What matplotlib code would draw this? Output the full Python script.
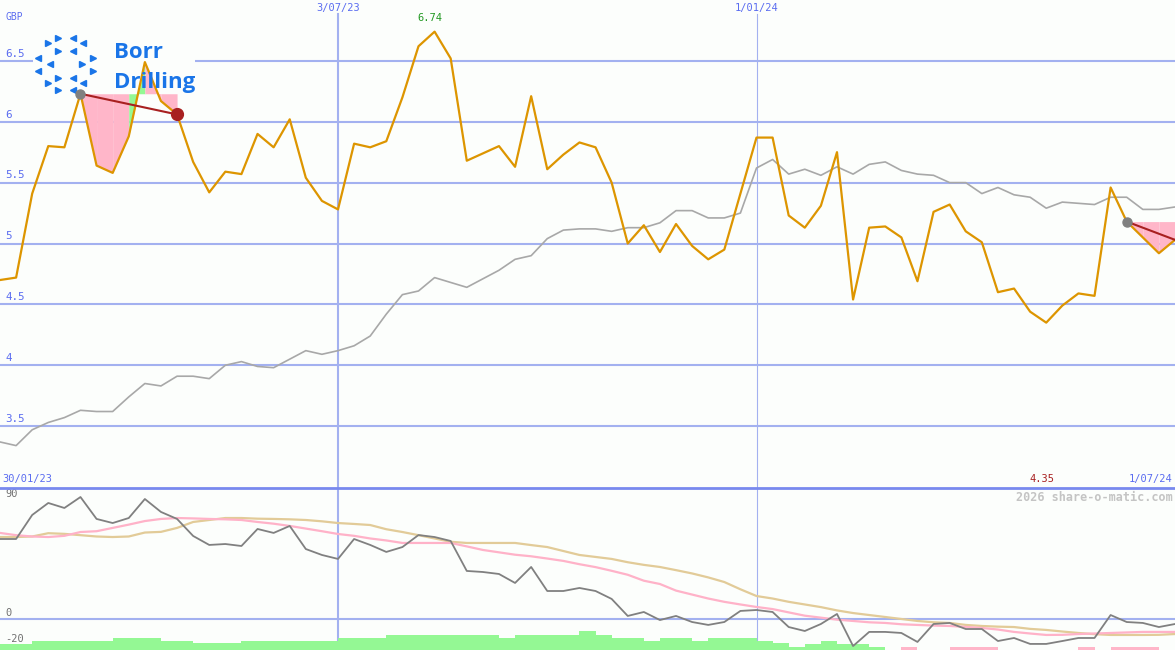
import matplotlib
matplotlib.use('Agg')
import matplotlib.pyplot as plt
from matplotlib.patches import Rectangle

# ---------------- data ----------------
price = [4.70, 4.72, 5.41, 5.80, 5.79, 6.23, 5.64, 5.58, 5.88, 6.49,
         6.17, 6.06, 5.67, 5.42, 5.59, 5.57, 5.90, 5.79, 6.02, 5.54,
         5.35, 5.28, 5.82, 5.79, 5.84, 6.20, 6.62, 6.74, 6.52, 5.68,
         5.74, 5.80, 5.63, 6.21, 5.61, 5.73, 5.83, 5.79, 5.50, 5.00,
         5.15, 4.93, 5.16, 4.98, 4.87, 4.95, 5.41, 5.87, 5.87, 5.23,
         5.13, 5.31, 5.75, 4.54, 5.13, 5.14, 5.05, 4.69, 5.26, 5.32,
         5.10, 5.01, 4.60, 4.63, 4.44, 4.35, 4.49, 4.59, 4.57, 5.46,
         5.18, 5.05, 4.92, 5.03]
avg = [3.37, 3.34, 3.47, 3.53, 3.57, 3.63, 3.62, 3.62, 3.74, 3.85,
       3.83, 3.91, 3.91, 3.89, 4.00, 4.03, 3.99, 3.98, 4.05, 4.12,
       4.09, 4.12, 4.16, 4.24, 4.42, 4.58, 4.61, 4.72, 4.68, 4.64,
       4.71, 4.78, 4.87, 4.90, 5.04, 5.11, 5.12, 5.12, 5.10, 5.13,
       5.13, 5.17, 5.27, 5.27, 5.21, 5.21, 5.25, 5.62, 5.69, 5.57,
       5.61, 5.56, 5.63, 5.57, 5.65, 5.67, 5.60, 5.57, 5.56, 5.50,
       5.50, 5.41, 5.46, 5.40, 5.38, 5.29, 5.34, 5.33, 5.32, 5.38,
       5.38, 5.28, 5.28, 5.30]
osc = [60.6, 60.6, 78.8, 87.9, 84.1, 92.4, 75.8, 72.7, 76.5, 90.9,
       81.1, 75.8, 62.9, 56.1, 56.8, 55.3, 68.2, 65.2, 70.5, 53.0,
       48.5, 45.5, 60.6, 56.1, 50.8, 54.5, 63.6, 62.1, 59.1, 36.4,
       35.6, 34.1, 27.3, 39.4, 21.2, 21.2, 23.5, 21.2, 15.2, 2.3,
       5.3, -0.8, 2.3, -2.3, -4.5, -2.3, 6.1, 6.8, 5.3, -6.1,
       -9.1, -3.8, 3.8, -20.5, -9.8, -9.8, -10.6, -17.4, -3.8, -3.0,
       -7.6, -7.6, -16.7, -14.4, -18.9, -18.9, -16.7, -14.4, -14.4, 3.0,
       -2.3, -3.0, -6.1, -3.8]
osc_pink = [65.2, 63.5, 62.5, 62.1, 63.0, 65.9, 66.5, 69.0, 71.5, 74.2,
            75.8, 76.5, 76.2, 75.8, 75.5, 75.0, 73.5, 72.2, 70.5, 68.5,
            66.5, 64.4, 63.0, 61.0, 59.5, 57.6, 57.6, 57.6, 57.6, 55.0,
            52.3, 50.5, 48.7, 47.5, 45.8, 44.0, 41.5, 39.3, 36.5, 33.5,
            29.0, 26.5, 21.5, 18.5, 15.5, 13.0, 11.0, 9.1, 7.5, 5.0,
            2.5, 1.0, -0.5, -1.5, -2.5, -3.0, -4.0, -4.5, -5.0, -5.3,
            -6.0, -6.8, -8.0, -9.8, -11.0, -12.1, -12.0, -11.4, -11.0, -10.6,
            -10.2, -9.8, -9.8, -9.8]
osc_tan = [62.1, 62.1, 62.5, 65.0, 64.5, 63.5, 62.5, 62.1, 62.5, 65.5,
           66.0, 69.0, 73.5, 75.0, 76.5, 76.5, 76.0, 75.8, 75.5, 75.0,
           74.0, 72.7, 72.0, 71.2, 68.0, 65.9, 63.5, 61.0, 58.5, 57.6,
           57.6, 57.6, 57.6, 56.0, 54.5, 51.5, 48.5, 47.0, 45.5, 43.0,
           41.0, 39.4, 37.0, 34.5, 31.5, 28.0, 22.5, 17.4, 15.5, 13.0,
           11.0, 9.0, 6.5, 4.5, 3.0, 1.5, 0.0, -1.5, -2.5, -3.0,
           -4.5, -5.3, -5.8, -6.1, -7.5, -8.3, -9.5, -10.6, -11.5, -12.1,
           -12.1, -12.1, -12.0, -11.4]
hist = [4.6, 4.6, 6.8, 6.8, 6.8, 6.8, 6.8, 9.1, 9.1, 9.1,
        6.8, 6.8, 5.3, 5.3, 5.3, 6.8, 6.8, 6.8, 6.8, 6.8,
        6.8, 9.1, 9.1, 9.1, 11.4, 11.4, 11.4, 11.4, 11.4, 11.4,
        11.4, 9.1, 11.4, 11.4, 11.4, 11.4, 14.4, 11.4, 9.1, 9.1,
        6.8, 9.1, 9.1, 6.8, 9.1, 9.1, 9.1, 6.8, 5.3, 2.3,
        4.6, 6.8, 4.6, 4.6, 2.3, 0, -2.3, 0, 0, -2.3,
        -2.3, -2.3, 0, 0, 0, 0, 0, -2.3, 0, -2.3,
        -2.3, -2.3, 0, 0]
price_ticks = [3.5, 4, 4.5, 5, 5.5, 6, 6.5]
price_tick_labels = ['3.5', '4', '4.5', '5', '5.5', '6', '6.5']
osc_ticks = [90, 0, -20]
osc_tick_labels = ['90', '0', '-20']
date_idx = [21, 47]
date_labels = ['3/07/23', '1/01/24']
start_label = '30/01/23'
end_label = '1/07/24'
currency = 'GBP'
# trend channels: (start index, end index, colour per segment)
trend_left = (5, 11, ['pink', 'pink', 'pink', 'green', 'pink', 'pink'])
trend_right = (70, 73, ['pink', 'pink', 'pink'])

# ---------------- style ----------------
W, H = 1175, 650
bg = '#fcfefc'
grid = '#a3b1f0'
lblue = '#5a6cf0'
gold = '#dd9500'
pinkc = '#ffb6c9'
greenc = '#94f894'
mono = 'DejaVu Sans Mono'
cols = {'pink': pinkc, 'green': greenc}

fig = plt.figure(figsize=(W / 100, H / 100), dpi=100)
fig.patch.set_facecolor(bg)
ax1 = fig.add_axes([0, 163 / H, 1, 487 / H])
ax2 = fig.add_axes([0, 0, 1, 163 / H])
for ax in (ax1, ax2):
    ax.set_facecolor(bg)
    for s in ax.spines.values():
        s.set_visible(False)
    ax.set_xticks([])
    ax.set_yticks([])
    ax.set_xlim(0, len(price) - 1)
ax1.set_ylim(3.0, 7.0)
ax2.set_ylim(-23.5, 100)

x = list(range(len(price)))

# ---------- upper panel ----------
for v, lbl in zip(price_ticks, price_tick_labels):
    ax1.axhline(v, color=grid, lw=1.5, zorder=1)
    ax1.annotate(lbl, xy=(0, v), xycoords=('axes fraction', 'data'),
                 xytext=(3.6, 1.6), textcoords='offset points',
                 ha='left', va='bottom', fontsize=7.8, family=mono, color=lblue)
for i, (d, lbl) in enumerate(zip(date_idx, date_labels)):
    ax1.axvline(d, ymax=1 - 14 / 487, color=grid, lw=1.5 if i == 0 else 0.8, zorder=1)
    ax1.annotate(lbl, xy=(d, 1), xycoords=('data', 'axes fraction'),
                 xytext=(0, -2), textcoords='offset points',
                 ha='center', va='top', fontsize=7.5, family=mono, color=lblue)
ax1.annotate(currency, xy=(0, 1), xycoords='axes fraction', xytext=(3.6, -9),
             textcoords='offset points', ha='left', va='top',
             fontsize=7, family=mono, color=lblue)

# logo (white box, icon, name)
ax1.add_patch(Rectangle((33 / W, 1 - 98 / H), 162 / W, 68 / H,
                        transform=fig.transFigure, facecolor=bg, edgecolor='none', zorder=2))
logo_blue = '#1a75e8'
tri_r = [(58, 38), (48, 43), (58, 51), (93, 58), (82, 64), (93, 71), (58, 78), (48, 83), (58, 90)]
tri_l = [(73, 38), (83, 43), (73, 51), (38, 58), (50, 64), (38, 71), (73, 78), (83, 83), (73, 90)]
for pts, m in ((tri_r, '>'), (tri_l, '<')):
    ax1.plot([p[0] / W for p in pts], [1 - p[1] / H for p in pts], linestyle='none',
             marker=m, ms=5, color=logo_blue, transform=fig.transFigure, zorder=3, clip_on=False)
fig.text(114 / W, 1 - 58 / H, 'Borr', fontsize=16, weight='bold', family='Open Sans',
         color=logo_blue, va='baseline', ha='left', zorder=3)
fig.text(114 / W, 1 - 88 / H, 'Drilling', fontsize=16, weight='bold', family='Open Sans',
         color=logo_blue, va='baseline', ha='left', zorder=3)

# trend channels
for (i0, i1, segc) in (trend_left, trend_right):
    lev = price[i0]
    for k, c in zip(range(i0, i1), segc):
        ax1.fill_between([k, k + 1], [price[k], price[k + 1]], lev,
                         color=cols[c], lw=0, zorder=4)
    ax1.plot([i0, i1], [price[i0], price[i1]], color='#a82020', lw=1.5, zorder=7)
    ax1.plot([i0], [price[i0]], 'o', ms=6.5, color='#808080', zorder=8)
ax1.plot([trend_left[1]], [price[trend_left[1]]], 'o', ms=8.5, color='#a82020', zorder=8)

ax1.plot(x, avg, color='#a8a8a8', lw=1.2, zorder=5)
ax1.plot(x, price, color=gold, lw=1.6, zorder=6)

imax = max(range(len(price)), key=lambda i: price[i])
imin = min(range(len(price)), key=lambda i: price[i])
ax1.annotate(f'{price[imax]:.2f}', xy=(imax, price[imax]), xytext=(-3.5, 6),
             textcoords='offset points', ha='center', va='bottom',
             fontsize=7.5, family=mono, color='#229922')
ax1.annotate(f'{price[imin]:.2f}', xy=(imin, 0), xycoords=('data', 'axes fraction'),
             xytext=(-3, 2.2), textcoords='offset points', ha='center', va='bottom',
             fontsize=7.5, family=mono, color='#a82020')
ax1.annotate(start_label, xy=(0, 0), xycoords='axes fraction', xytext=(1.5, 2.2),
             textcoords='offset points', ha='left', va='bottom',
             fontsize=7.5, family=mono, color=lblue)
ax1.annotate(end_label, xy=(1, 0), xycoords='axes fraction', xytext=(-2, 2.2),
             textcoords='offset points', ha='right', va='bottom',
             fontsize=7.5, family=mono, color=lblue)

# separator
fig.add_artist(plt.Line2D([0, 1], [1 - 487.5 / H] * 2, color='#7889ee', lw=2,
                          transform=fig.transFigure))

# ---------- lower panel ----------
ax2.axhline(0, color=grid, lw=1.5, zorder=1)
for i, d in enumerate(date_idx):
    ax2.axvline(d, color=grid, lw=1.5 if i == 0 else 0.8, zorder=1)
for v, lbl in zip(osc_ticks, osc_tick_labels):
    ax2.annotate(lbl, xy=(0, v), xycoords=('axes fraction', 'data'),
                 xytext=(3.6, 1), textcoords='offset points',
                 ha='left', va='bottom', fontsize=7.5, family=mono, color='#707070')
lo = ax2.get_ylim()[0]
for k, h in enumerate(hist):
    if h != 0:
        ax2.bar(k, abs(h), bottom=lo, width=1, align='edge',
                color=greenc if h > 0 else pinkc, lw=0, zorder=2)
ax2.plot(x, osc_tan, color='#e2cb98', lw=1.6, zorder=3)
ax2.plot(x, osc_pink, color='#ffb2c8', lw=1.6, zorder=3)
ax2.plot(x, osc, color='#808080', lw=1.3, zorder=4)
ax2.annotate('2026 share-o-matic.com', xy=(1, 1), xycoords='axes fraction',
             xytext=(-1.5, -3), textcoords='offset points', ha='right', va='top',
             fontsize=8.5, weight='bold', family=mono, color='#c4c4c4')

fig.savefig('out.png', dpi=100, facecolor=bg)
